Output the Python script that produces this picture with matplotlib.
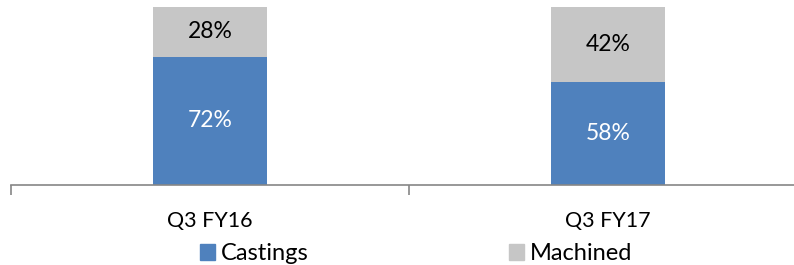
import matplotlib.pyplot as plt
from matplotlib.ticker import FixedLocator, NullFormatter
from matplotlib.patches import Patch

# data
quarters = ['Q3 FY16', 'Q3 FY17']
castings = [72, 58]
machined = [28, 42]

blue = '#4F81BD'
grey = '#C6C6C6'

plt.rcParams['font.family'] = ['Lato', 'DejaVu Sans']

fig = plt.figure(figsize=(7.94, 2.65), dpi=100)
ax = fig.add_axes([11 / 794, 80 / 265, 796 / 794, 178 / 265])

x = list(range(len(quarters)))
w = 0.285
ax.bar(x, castings, width=w, color=blue)
ax.bar(x, machined, width=w, bottom=castings, color=grey)

for i in x:
    ax.text(i, castings[i] / 2, f'{castings[i]}%', ha='center', va='center',
            color='white', fontsize=16.5)
    ax.text(i, castings[i] + machined[i] / 2, f'{machined[i]}%', ha='center',
            va='center', color='black', fontsize=16.5)

ax.set_xlim(-0.5, 1.5)
ax.set_ylim(0, 100)

for s in ['top', 'right', 'left']:
    ax.spines[s].set_visible(False)
ax.spines['bottom'].set_color('#868686')
ax.spines['bottom'].set_linewidth(1.2)
ax.set_yticks([])

# ticks between categories, labels in the middle
ax.xaxis.set_major_locator(FixedLocator([-0.5, 0.5, 1.5]))
ax.xaxis.set_major_formatter(NullFormatter())
ax.xaxis.set_minor_locator(FixedLocator(x))
ax.set_xticklabels(quarters, minor=True, fontsize=15.5)
ax.tick_params(axis='x', which='major', length=7, width=1.2, color='#868686')
ax.tick_params(axis='x', which='minor', length=0, pad=19)

handles = [Patch(color=blue, label='Castings'), Patch(color=grey, label='Machined')]
fig.legend(handles=handles, loc='center', bbox_to_anchor=(416 / 794, 11 / 265), ncol=2,
           frameon=False, fontsize=17, handlelength=0.64, handleheight=0.64,
           handletextpad=0.25, columnspacing=8.5, borderpad=0, borderaxespad=0)

fig.savefig('out.png', dpi=100)
